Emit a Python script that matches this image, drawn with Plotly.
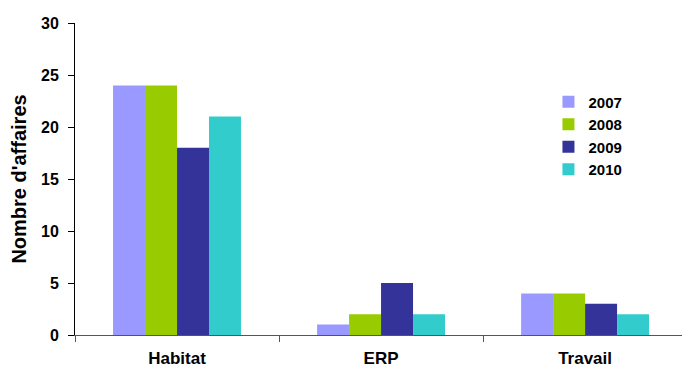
import plotly.graph_objects as go

categories = ["Habitat", "ERP", "Travail"]
years = ["2007", "2008", "2009", "2010"]
values_2007 = [24, 1, 4]
values_2008 = [24, 2, 4]
values_2009 = [18, 5, 3]
values_2010 = [21, 2, 2]
y_ticks = [0, 5, 10, 15, 20, 25, 30]

series = [values_2007, values_2008, values_2009, values_2010]
colors = ["#9999FF", "#99CC00", "#333399", "#33CCCC"]

font_family = "Liberation Sans, Arial, sans-serif"

fig = go.Figure()
for name, vals, col in zip(years, series, colors):
    fig.add_trace(go.Bar(
        x=categories, y=vals, name=name,
        marker=dict(color=col, line=dict(width=0)),
    ))

fig.update_layout(
    width=682, height=374,
    margin=dict(l=75, r=0, t=23, b=39),
    barmode="group",
    bargap=0.373,
    bargroupgap=0,
    plot_bgcolor="white",
    paper_bgcolor="white",
    font=dict(family=font_family, size=16, color="black"),
    legend=dict(
        x=0.78, y=0.8, xanchor="left", yanchor="top",
        font=dict(family=font_family, size=15, color="black", weight="bold"),
        bgcolor="rgba(0,0,0,0)",
        itemwidth=30,
    ),
    showlegend=True,
)

fig.update_xaxes(
    type="category",
    range=[-0.5, 2.475],
    showline=True, linecolor="#555555", linewidth=1,
    ticks="outside", tickson="boundaries", ticklen=6, tickcolor="#555555",
    tickfont=dict(family=font_family, size=17, color="black", weight="bold"),
    ticklabelstandoff=8,
    showgrid=False, zeroline=False,
)
fig.update_yaxes(
    range=[0, 30], tickvals=y_ticks,
    showline=True, linecolor="black", linewidth=1,
    ticks="outside", ticklen=6, tickcolor="black",
    tickfont=dict(family=font_family, size=16, color="black", weight="bold"),
    ticklabelstandoff=6,
    showgrid=False, zeroline=False,
    title=dict(text="Nombre d'affaires", standoff=9,
               font=dict(family=font_family, size=20, color="black", weight="bold")),
)

fig.write_html("out.html")
